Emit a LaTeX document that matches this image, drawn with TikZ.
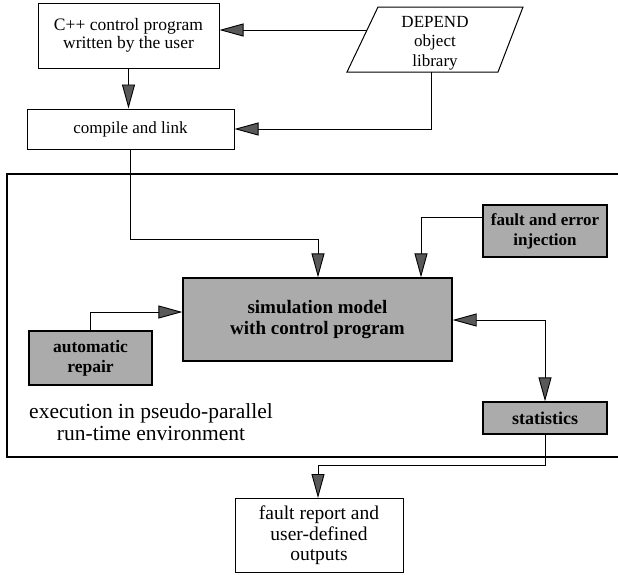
\documentclass[tikz,border=0pt]{standalone}
\usepackage{fontspec}
\setmainfont{Liberation Serif}
\usetikzlibrary{arrows.meta,calc}

\tikzset{
  whitebox/.style={draw, line width=1pt, fill=white, align=center, inner sep=0pt,
                   font=\fontsize{17}{18}\selectfont},
  graybox/.style={draw, line width=1.3pt, fill=black!33, align=center, inner sep=0pt,
                  font=\fontsize{17}{20}\selectfont\bfseries},
  flowtip/.tip={Triangle[length=24pt, width=13pt, fill=black!65]},
  conn/.style={line width=0.9pt, -flowtip},
  biconn/.style={line width=0.9pt, flowtip-flowtip}
}

\begin{document}
\begin{tikzpicture}[x=1pt, y=-1pt]
\useasboundingbox (0,0) rectangle (618,574);

% run-time environment frame, open on the right
\draw[line width=1.3pt] (618,174) -- (7,174) -- (7,457) -- (618,457);

% source program and build step
\node[whitebox, minimum width=181pt, minimum height=65pt,
      font=\fontsize{17.5}{17.5}\selectfont] (prog) at (128.5,35.5)
      {C++ control program\\written by the user};
\node[whitebox, minimum width=207pt, minimum height=40pt] (comp) at (130.5,129)
      {compile and link};

% object library (parallelogram)
\draw[line width=1pt, fill=white] (378,7) -- (523,7) -- (498,72) -- (347,72) -- cycle;
\node[align=center, inner sep=0pt, font=\fontsize{17}{19.5}\selectfont] (lib) at (435,43)
      {DEPEND\\object\\library};
\coordinate (libL) at (367,30);
\coordinate (libB) at (431,72);

% simulation core and its satellites
\node[graybox, minimum width=269pt, minimum height=83pt,
      font=\fontsize{19}{21}\selectfont\bfseries] (sim) at (317.5,319.5)
      {simulation model\\with control program};
\node[graybox, minimum width=124pt, minimum height=52pt] (inj) at (545,231)
      {fault and error\\injection};
\node[graybox, minimum width=123pt, minimum height=54pt,
      font=\fontsize{17.5}{20}\selectfont\bfseries] (rep) at (90.5,358)
      {automatic\\repair};
\node[graybox, minimum width=124pt, minimum height=32pt,
      font=\fontsize{18}{20}\selectfont\bfseries] (stat) at (545,418)
      {statistics};

\node[align=center, inner sep=0pt, font=\fontsize{21.5}{22}\selectfont] (env) at (151,422)
      {execution in pseudo-parallel\\run-time environment};

% outputs
\node[whitebox, minimum width=168pt, minimum height=74pt,
      font=\fontsize{19.5}{20.5}\selectfont] (out) at (319,535.5)
      {fault report and\\user-defined\\outputs};

% connectors
\draw[conn] (prog.south) -- (prog.south |- comp.north);
\draw[conn] (libL) -- (libL -| prog.east);
\draw[conn] (libB) |- (comp.east);

\coordinate (j1) at (318,239);
\draw[conn] (comp.south) |- (j1) -- (j1 |- sim.north);

\coordinate (j2) at (421,217);
\draw[conn] (j2 -| inj.west) -- (j2) -- (j2 |- sim.north);

\coordinate (j3) at (90,312);
\draw[conn] (j3 |- rep.north) -- (j3) -- (j3 -| sim.west);

\coordinate (j4) at (545,320);
\draw[biconn] (j4 -| sim.east) -- (j4) -- (stat.north);

\coordinate (j5) at (318,465);
\draw[conn] (stat.south) |- (j5) -- (j5 |- out.north);
\end{tikzpicture}
\end{document}
